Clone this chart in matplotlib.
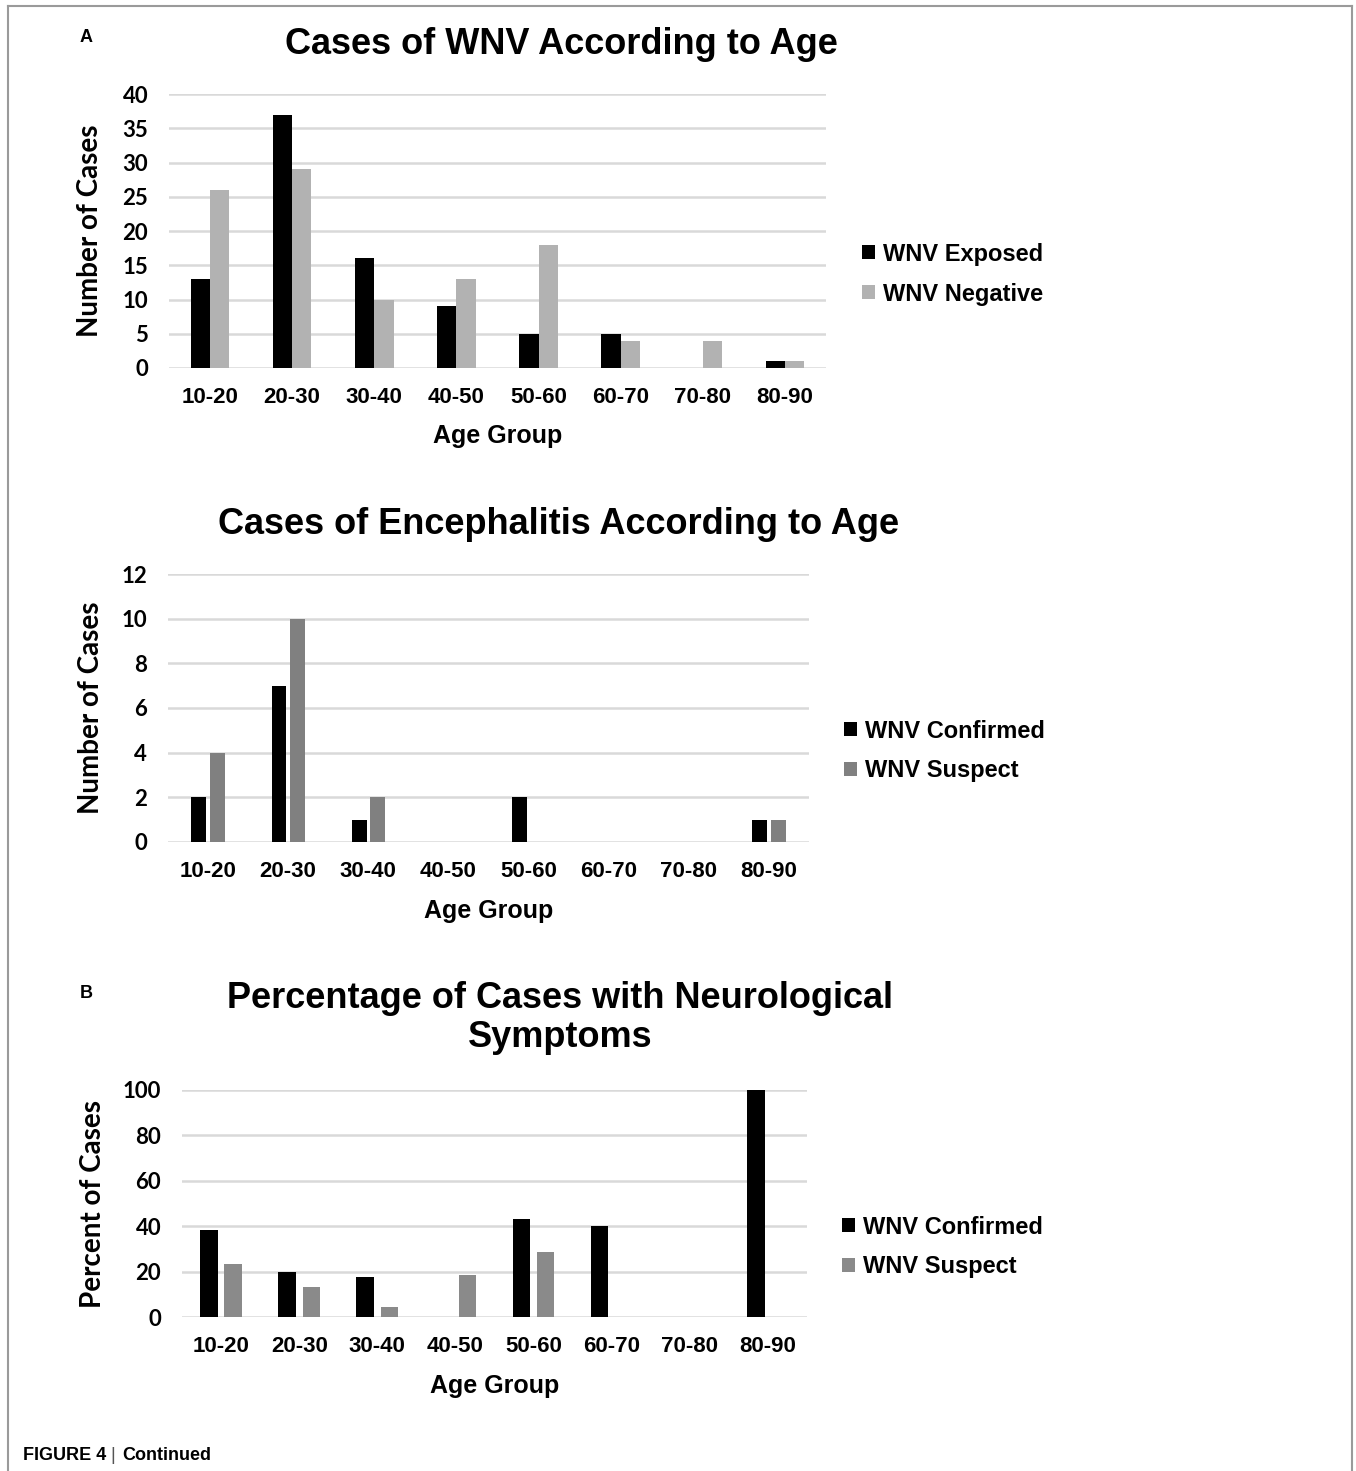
import matplotlib
matplotlib.use("Agg")
import matplotlib.pyplot as plt
from matplotlib import font_manager
from matplotlib.lines import Line2D
import numpy as np

names = {f.name for f in font_manager.fontManager.ttflist}
NARROW = "Liberation Sans Narrow" if "Liberation Sans Narrow" in names else "Liberation Sans"
ARIAL = "Liberation Sans"
CAL = "Lato" if "Lato" in names else "DejaVu Sans"

age_groups = ["10-20", "20-30", "30-40", "40-50", "50-60", "60-70", "70-80", "80-90"]

wnv_exposed = [13, 37, 16, 9, 5, 5, 0, 1]
wnv_negative = [26, 29, 10, 13, 18, 4, 4, 1]

enc_confirmed = [2, 7, 1, 0, 2, 0, 0, 1]
enc_suspect = [4, 10, 2, 0, 0, 0, 0, 1]

pct_confirmed = [38.5, 20, 17.5, 0, 43, 40, 0, 100]
pct_suspect = [23.5, 13.2, 4.6, 18.3, 28.6, 0, 0, 0]

W, H = 1356, 1471
fig = plt.figure(figsize=(W / 100, H / 100), dpi=100)

TITLE_SIZE = 26
LEG_PROP = {"family": ARIAL, "weight": "bold", "size": 17}


def ax_px(left, right, top, bottom):
    return fig.add_axes([left / W, 1 - bottom / H, (right - left) / W, (bottom - top) / H])


def style(ax, ymax, ystep, ylabel, ylabel_x, xlabel_y_px, axbottom_px, axtop_px):
    ax.set_xlim(-0.5, 7.5)
    ax.set_ylim(0, ymax)
    ticks = np.arange(0, ymax + 0.001, ystep)
    ax.set_yticks(ticks)
    ax.set_yticklabels([f"{int(v)}" for v in ticks],
                       fontfamily=CAL, fontweight="bold", fontsize=16)
    ax.set_xticks(range(len(age_groups)))
    ax.set_xticklabels(age_groups, fontfamily=NARROW, fontweight="bold", fontsize=16)
    ax.tick_params(axis="both", length=0)
    ax.tick_params(axis="y", pad=15)
    ax.tick_params(axis="x", pad=14)
    for s in ax.spines.values():
        s.set_visible(False)
    ax.grid(axis="y", color="#d9d9d9", linewidth=1.8)
    ax.set_axisbelow(True)
    ax.set_ylabel(ylabel, fontfamily=CAL, fontweight="bold", fontsize=20)
    ax.yaxis.set_label_coords(ylabel_x, 0.5)
    ax.set_xlabel("Age Group", fontfamily=NARROW, fontweight="bold", fontsize=18)
    h = axbottom_px - axtop_px
    ax.xaxis.set_label_coords(0.5, -(xlabel_y_px - axbottom_px) / h)
    ax.xaxis.label.set_va("center")
    ax.yaxis.label.set_va("center")


def legend(handles, x_px, y_px):
    fig.legend(handles=handles, loc="center left", bbox_to_anchor=(x_px / W, 1 - y_px / H),
               frameon=False, prop=LEG_PROP,
               handlelength=0.55, handleheight=0.55, handletextpad=0.35, labelspacing=0.72,
               borderpad=0, borderaxespad=0)


x = np.arange(len(age_groups))

# Panel A1
ax1 = ax_px(169, 826, 94, 368)
w1 = 0.235
b1 = ax1.bar(x - w1 / 2, wnv_exposed, w1, color="#000000", label="WNV Exposed")
b2 = ax1.bar(x + w1 / 2, wnv_negative, w1, color="#b2b2b2", label="WNV Negative")
style(ax1, 40, 5, "Number of Cases", (90 - 169) / 657, 436, 368, 94)
fig.text(561 / W, 1 - 44 / H, "Cases of WNV According to Age", ha="center", va="center",
         fontfamily=NARROW, fontweight="bold", fontsize=TITLE_SIZE)
legend([b1, b2], 862, 274)

# Panel A2
ax2 = ax_px(168, 809, 574, 842)
w2 = 0.185
off2 = 0.115
c1 = ax2.bar(x - off2, enc_confirmed, w2, color="#000000", label="WNV Confirmed")
c2 = ax2.bar(x + off2, enc_suspect, w2, color="#808080", label="WNV Suspect")
style(ax2, 12, 2, "Number of Cases", (91 - 168) / 641, 911, 842, 574)
fig.text(559 / W, 1 - 524 / H, "Cases of Encephalitis According to Age", ha="center", va="center",
         fontfamily=NARROW, fontweight="bold", fontsize=TITLE_SIZE)
legend([c1, c2], 844, 751)

# Panel B
ax3 = ax_px(182, 807, 1090, 1317)
w3 = 0.225
off3 = 0.155
d1 = ax3.bar(x - off3, pct_confirmed, w3, color="#000000", label="WNV Confirmed")
d2 = ax3.bar(x + off3, pct_suspect, w3, color="#8a8a8a", label="WNV Suspect")
style(ax3, 100, 20, "Percent of Cases", (93 - 182) / 625, 1386, 1317, 1090)
fig.text(560 / W, 1 - 1018 / H, "Percentage of Cases with Neurological\nSymptoms", ha="center",
         va="center", fontfamily=NARROW, fontweight="bold", fontsize=TITLE_SIZE, linespacing=1.12)
legend([d1, d2], 842, 1247)

# Panel letters
fig.text(86 / W, 1 - 38 / H, "A", ha="center", va="center", fontfamily=ARIAL, fontweight="bold", fontsize=13)
fig.text(86 / W, 1 - 993 / H, "B", ha="center", va="center", fontfamily=ARIAL, fontweight="bold", fontsize=13)

# Caption
fig.text(23 / W, 1 - 1455 / H, "FIGURE 4", ha="left", va="center", fontfamily=ARIAL, fontweight="bold", fontsize=13)
fig.text(113 / W, 1 - 1455 / H, "|", ha="center", va="center", fontfamily=ARIAL, color="#555555", fontsize=13)
fig.text(122 / W, 1 - 1455 / H, "Continued", ha="left", va="center", fontfamily=ARIAL, fontweight="bold", fontsize=13)

# Frame
fc = "#9a9a9a"
fig.add_artist(Line2D([8 / W, 1352 / W], [1 - 6 / H, 1 - 6 / H], color=fc, lw=1.5))
fig.add_artist(Line2D([8 / W, 8 / W], [1 - 6 / H, 0], color=fc, lw=1.5))
fig.add_artist(Line2D([1352 / W, 1352 / W], [1 - 6 / H, 0], color=fc, lw=1.5))

fig.savefig("out.png", dpi=100, facecolor="white")
